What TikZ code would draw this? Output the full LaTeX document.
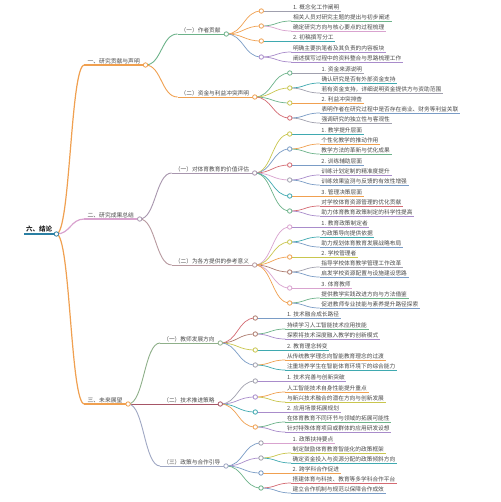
\documentclass[tikz,border=0pt]{standalone}
\usepackage{fontspec}
\usetikzlibrary{calc}
\newfontfamily\cjk{Noto Sans CJK SC}
\definecolor{morange}{HTML}{F0A050}
\definecolor{mgreen}{HTML}{6DB38A}
\definecolor{mteal}{HTML}{3FA9B0}
\definecolor{mpurple}{HTML}{A98CCB}
\definecolor{mred}{HTML}{D46A72}
\definecolor{mblue}{HTML}{7A9CC6}
\definecolor{myellow}{HTML}{C9C64E}
\definecolor{mgray}{HTML}{A0A0AE}
\definecolor{mpink}{HTML}{D9A3CF}
\definecolor{mbrown}{HTML}{AD7B6E}
\definecolor{mroot}{HTML}{2A7FA3}
\definecolor{mmauve}{HTML}{A896AE}
\definecolor{mmaroon}{HTML}{A65566}
\definecolor{msage}{HTML}{8FB08A}
\definecolor{mslate}{HTML}{A0A8C4}
\definecolor{mrose}{HTML}{B89AA0}
\definecolor{mtext}{HTML}{4A4A4A}
\newcounter{mmn}
\newcommand\mmlink[3]{%
  \draw[#1] let \p1=(#2), \p2=(#3) in (\p1) .. controls ({0.5*\x1+0.5*\x2},\y1) and ({0.5*\x1+0.5*\x2},\y2) .. (\p2);}
\newcommand\mmdot[2]{\draw[#1,fill=white,line width=0.8pt] (#2) circle (2.2pt);}
% #1 parent coord, #2 name, #3 dx, #4 y px, #5 color, #6 style prefix, #7 text
\newcommand\mmnode[7]{%
  \path let \p1=(#1) in ({\x1+#3},{-#4pt}) node[#6n,anchor=south west] (#2) {#7};
  \mmlink{#5,#6link}{#1}{#2.south west}
  \draw[#5,#6link] (#2.south west) -- ([xshift=2.5pt]#2.south east) coordinate (#2c);}
% #1 parent coord, #2 new circle name, #3 dx, #4 y px, #5 color
\newcommand\mmgroup[5]{%
  \path let \p1=(#1) in ({\x1+#3},{-#4pt}) coordinate (#2);
  \mmlink{#5,leaflink}{#1}{#2}}
% #1 circle, #2 y offset, #3 color, #4 text
\newcommand\mmline[4]{%
  \stepcounter{mmn}%
  \path let \p1=(#1) in ({\x1+30pt},{\y1+(#2)}) node[leafn,anchor=south west] (L\arabic{mmn}) {#4};
  \mmlink{#3,leaflink}{#1}{L\arabic{mmn}.south west}
  \draw[#3,leaflink] (L\arabic{mmn}.south west) -- (L\arabic{mmn}.south east);}
\tikzset{
  leafn/.style={font=\cjk\fontsize{5.7}{6.5}\selectfont, text=mtext, inner xsep=1.5pt, inner ysep=1pt},
  midn/.style={font=\cjk\fontsize{5.7}{6.5}\selectfont, text=mtext, inner xsep=3pt, inner ysep=1pt},
  topn/.style={font=\cjk\fontsize{5.8}{6.6}\selectfont, text=mtext, inner xsep=3pt, inner ysep=1pt},
  rootn/.style={font=\cjk\bfseries\fontsize{6.5}{7.5}\selectfont, text=black!85, inner xsep=2pt, inner ysep=1.2pt},
  leaflink/.style={line width=0.7pt},
  midlink/.style={line width=0.9pt},
  toplink/.style={line width=1.2pt},
}
\begin{document}
\begin{tikzpicture}[x=1pt,y=-1pt]
\useasboundingbox[fill=white] (0,0) rectangle (500,502);
% root
\node[rootn,anchor=south west] (root) at (24,234) {六、结论};
\draw[mroot,line width=1.4pt] (root.south west) -- ([xshift=2pt]root.south east) coordinate (rootc);
% level 1
\mmnode{rootc}{A}{28pt}{65}{morange}{top}{一、研究贡献与声明}
\mmnode{rootc}{B}{28pt}{219}{mpink}{top}{二、研究成果总结}
\mmnode{rootc}{C}{28pt}{404}{morange}{top}{三、未来展望}
% level 2
\mmnode{Ac}{A1}{32pt}{34}{mgreen}{mid}{（一）作者贡献}
\mmnode{Ac}{A2}{32pt}{97}{morange}{mid}{（二）资金与利益冲突声明}
\mmnode{Bc}{B1}{32pt}{173}{mmauve}{mid}{（一）对体育教育的价值评估}
\mmnode{Bc}{B2}{32pt}{265}{mrose}{mid}{（二）为各方提供的参考意义}
\mmnode{Cc}{C1}{32pt}{343}{msage}{mid}{（一）教师发展方向}
\mmnode{Cc}{C2}{32pt}{404}{mmaroon}{mid}{（二）技术推进策略}
\mmnode{Cc}{C3}{32pt}{466}{mslate}{mid}{（三）政策与合作引导}
% A1 children
\mmgroup{A1c}{a11}{35pt}{11}{morange}
\mmline{a11}{0pt}{mgray}{1. 概念化工作阐明}
\mmdot{morange}{a11}
\mmgroup{A1c}{a12}{35pt}{26}{morange}
\mmline{a12}{5pt}{mgreen}{相关人员对研究主题的提出与初步阐述}
\mmline{a12}{-5pt}{mpink}{确定研究方向与核心要点的过程梳理}
\mmdot{morange}{a12}
\mmgroup{A1c}{a13}{35pt}{41}{morange}
\mmline{a13}{0pt}{mteal}{2. 初稿撰写分工}
\mmdot{morange}{a13}
\mmgroup{A1c}{a14}{35pt}{57}{mblue}
\mmline{a14}{5pt}{mpurple}{明确主要执笔者及其负责的内容板块}
\mmline{a14}{-5pt}{mpurple}{阐述撰写过程中的资料整合与思路梳理工作}
\mmdot{mpurple}{a14}
% A2 children
\mmgroup{A2c}{a21}{35pt}{73}{mgreen}
\mmline{a21}{0pt}{mgray}{1. 资金来源说明}
\mmdot{mgreen}{a21}
\mmgroup{A2c}{a22}{35pt}{88}{myellow}
\mmline{a22}{5pt}{mteal}{确认研究是否有外部资金支持}
\mmline{a22}{-5pt}{mgray}{若有资金支持，详细说明资金提供方与资助范围}
\mmdot{myellow}{a22}
\mmgroup{A2c}{a23}{35pt}{103}{mgreen}
\mmline{a23}{0pt}{morange}{2. 利益冲突排查}
\mmdot{myellow}{a23}
\mmgroup{A2c}{a24}{35pt}{118}{mred}
\mmline{a24}{5pt}{mblue}{表明作者在研究过程中是否存在商业、财务等利益关联}
\mmline{a24}{-5pt}{mgray}{强调研究的独立性与客观性}
\mmdot{mred}{a24}
% B1 children
\mmgroup{B1c}{b11}{35pt}{134}{myellow}
\mmline{b11}{0pt}{mteal}{1. 教学提升层面}
\mmdot{myellow}{b11}
\mmgroup{B1c}{b12}{35pt}{149}{mblue}
\mmline{b12}{5pt}{morange}{个性化教学的推动作用}
\mmline{b12}{-5pt}{mgreen}{教学方法的革新与优化成果}
\mmdot{mblue}{b12}
\mmgroup{B1c}{b13}{35pt}{165}{mred}
\mmline{b13}{0pt}{mblue}{2. 训练辅助层面}
\mmdot{mred}{b13}
\mmgroup{B1c}{b14}{35pt}{180}{mpink}
\mmline{b14}{5pt}{mpurple}{训练计划定制的精准度提升}
\mmline{b14}{-5pt}{mblue}{训练效果监测与反馈的有效性增强}
\mmdot{mgray}{b14}
\mmgroup{B1c}{b15}{35pt}{196}{mteal}
\mmline{b15}{0pt}{morange}{3. 管理决策层面}
\mmdot{mteal}{b15}
\mmgroup{B1c}{b16}{35pt}{211}{mgreen}
\mmline{b16}{5pt}{mred}{对学校体育资源管理的优化贡献}
\mmline{b16}{-5pt}{mpurple}{助力体育教育政策制定的科学性提高}
\mmdot{mgreen}{b16}
% B2 children
\mmgroup{B2c}{b21}{35pt}{227}{mpink}
\mmline{b21}{0pt}{mpurple}{1. 教育政策制定者}
\mmdot{mpink}{b21}
\mmgroup{B2c}{b22}{35pt}{242}{myellow}
\mmline{b22}{5pt}{mteal}{为政策导向提供依据}
\mmline{b22}{-5pt}{mblue}{助力规划体育教育发展战略布局}
\mmdot{myellow}{b22}
\mmgroup{B2c}{b23}{35pt}{257}{morange}
\mmline{b23}{0pt}{myellow}{2. 学校管理者}
\mmdot{morange}{b23}
\mmgroup{B2c}{b24}{35pt}{272}{mbrown}
\mmline{b24}{5pt}{mgray}{指导学校体育教学管理工作改革}
\mmline{b24}{-5pt}{mblue}{启发学校资源配置与设施建设思路}
\mmdot{mbrown}{b24}
\mmgroup{B2c}{b25}{35pt}{288}{mpink}
\mmline{b25}{0pt}{mpink}{3. 体育教师}
\mmdot{mpink}{b25}
\mmgroup{B2c}{b26}{35pt}{303}{morange}
\mmline{b26}{5pt}{mgreen}{提供教学实践改进方向与方法借鉴}
\mmline{b26}{-5pt}{mblue}{促进教师专业技能与素养提升路径探索}
\mmdot{morange}{b26}
% C1 children
\mmgroup{C1c}{c11}{35pt}{318}{mred}
\mmline{c11}{0pt}{mblue}{1. 技术融合成长路径}
\mmdot{mbrown}{c11}
\mmgroup{C1c}{c12}{35pt}{334}{mbrown}
\mmline{c12}{5pt}{mgreen}{持续学习人工智能技术应用技能}
\mmline{c12}{-5pt}{mpurple}{探索将技术深度融入教学的创新模式}
\mmdot{mbrown}{c12}
\mmgroup{C1c}{c13}{35pt}{350}{myellow}
\mmline{c13}{0pt}{mteal}{2. 教育理念转变}
\mmdot{myellow}{c13}
\mmgroup{C1c}{c14}{35pt}{365}{mblue}
\mmline{c14}{5pt}{morange}{从传统教学理念向智能教育理念的过渡}
\mmline{c14}{-5pt}{mteal}{注重培养学生在智能体育环境下的综合能力}
\mmdot{mgray}{c14}
% C2 children
\mmgroup{C2c}{c21}{35pt}{381}{mgray}
\mmline{c21}{0pt}{mpurple}{1. 技术完善与创新突破}
\mmdot{mgray}{c21}
\mmgroup{C2c}{c22}{35pt}{397}{mpurple}
\mmline{c22}{5pt}{morange}{人工智能技术自身性能提升重点}
\mmline{c22}{-5pt}{myellow}{与新兴技术融合的潜在方向与创新发展}
\mmdot{mpurple}{c22}
\mmgroup{C2c}{c23}{35pt}{412}{mteal}
\mmline{c23}{0pt}{mpurple}{2. 应用场景拓展规划}
\mmdot{mteal}{c23}
\mmgroup{C2c}{c24}{35pt}{427}{morange}
\mmline{c24}{5pt}{mgreen}{在体育教育不同环节与领域的拓展可能性}
\mmline{c24}{-5pt}{mpurple}{针对特殊体育项目或群体的应用研发设想}
\mmdot{morange}{c24}
% C3 children
\mmgroup{C3c}{c31}{35pt}{443}{mblue}
\mmline{c31}{0pt}{mpink}{1. 政策扶持要点}
\mmdot{mgray}{c31}
\mmgroup{C3c}{c32}{35pt}{458}{mpurple}
\mmline{c32}{5pt}{myellow}{制定鼓励体育教育智能化的政策框架}
\mmline{c32}{-5pt}{mteal}{确定资金投入与资源分配的政策倾斜方向}
\mmdot{mgray}{c32}
\mmgroup{C3c}{c33}{35pt}{473}{mblue}
\mmline{c33}{0pt}{morange}{2. 跨学科合作促进}
\mmdot{mblue}{c33}
\mmgroup{C3c}{c34}{35pt}{488}{mgreen}
\mmline{c34}{5pt}{mred}{搭建体育与科技、教育等多学科合作平台}
\mmline{c34}{-5pt}{mblue}{建立合作机制与规范以保障合作成效}
\mmdot{mgreen}{c34}
% dots of upper levels
\mmdot{mgreen}{A1c}
\mmdot{morange}{A2c}
\mmdot{mmauve}{B1c}
\mmdot{mrose}{B2c}
\mmdot{msage}{C1c}
\mmdot{mmaroon}{C2c}
\mmdot{mslate}{C3c}
\mmdot{morange}{Ac}
\mmdot{mmauve}{Bc}
\mmdot{morange}{Cc}
\mmdot{mroot}{rootc}
\end{tikzpicture}
\end{document}
